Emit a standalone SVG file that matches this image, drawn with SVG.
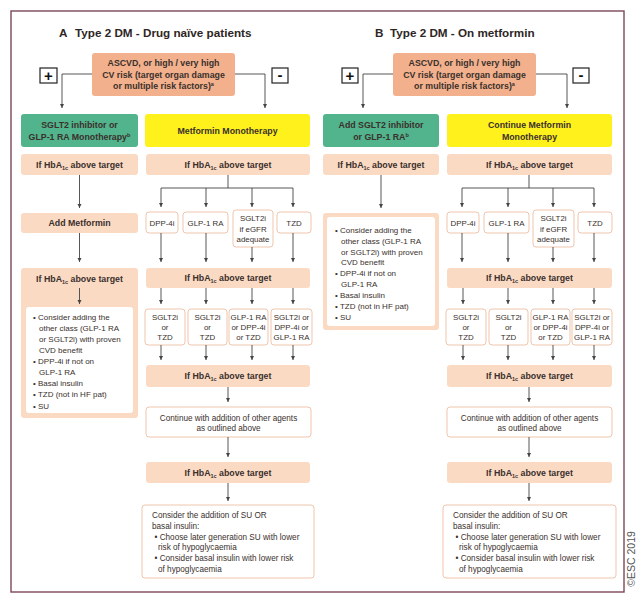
<svg xmlns="http://www.w3.org/2000/svg" width="640" height="597" viewBox="0 0 640 597">
<style>
text{font-family:"Liberation Sans",Arial,sans-serif;fill:#3a302c}
.t{font-size:11.7px;font-weight:bold;fill:#2e2624}
.h{font-size:8.8px;font-weight:bold;text-anchor:middle}
.w{font-size:8.2px;text-anchor:middle}
.s{font-size:7.9px;text-anchor:middle}
.l{font-size:8px}
.f{font-size:8.2px}
.sub{font-size:5.5px}
.asc{fill:#F2B18C}
.pe{fill:#FBDAC4}
.gr{fill:#52B48C}
.ye{fill:#FFF21C}
.wb{fill:#fff;stroke:#EFC6AC;stroke-width:1}
.pm{fill:#fff;stroke:#222;stroke-width:1.2}
.pmt{font-size:15px;font-weight:bold;text-anchor:middle;fill:#111}
#connectors path{fill:none;stroke:#444;stroke-width:0.9;marker-end:url(#ah)}
#connectors path.nm{marker-end:none}
</style>
<defs>
<marker id="ah" viewBox="0 0 8 8" refX="8" refY="4" markerWidth="4.5" markerHeight="4.5" markerUnits="userSpaceOnUse" orient="auto"><path d="M0,0 L8,4 L0,8 z" fill="#444"/></marker>
</defs>
<rect width="640" height="597" fill="#fff"/>
<rect id="frame" x="11" y="11" width="613" height="581" fill="none" stroke="#7a4858" stroke-width="1.4"/>

<!-- Panel A -->
<g id="a-title"><text class="t" x="59" y="37">A<tspan x="75">Type 2 DM - Drug naïve patients</tspan></text></g>
<g id="a-ascvd"><rect class="asc" x="92" y="53" width="143" height="43" rx="3"/>
<text class="h" x="163.5" y="66">ASCVD, or high / very high</text>
<text class="h" x="163.5" y="77.5">CV risk (target organ damage</text>
<text class="h" x="163.5" y="89">or multiple risk factors)<tspan class="sub" dy="-3">a</tspan></text></g>
<g id="a-plus"><rect class="pm" x="40" y="68" width="17" height="15"/><text class="pmt" x="48.5" y="80.5">+</text></g>
<g id="a-minus"><rect class="pm" x="272" y="68" width="16" height="15"/><text class="pmt" x="280" y="80">-</text></g>
<g id="a-sglt2"><rect class="gr" x="21" y="114" width="117" height="33" rx="3"/>
<text class="h" x="79.5" y="128">SGLT2 inhibitor or</text>
<text class="h" x="79.5" y="139.5">GLP-1 RA Monotherapy<tspan class="sub" dy="-3">b</tspan></text></g>
<g id="a-metformin"><rect class="ye" x="145" y="114" width="165" height="33" rx="3"/>
<text class="h" x="227.5" y="134">Metformin Monotherapy</text></g>
<g id="a-hb1l"><rect class="pe" x="21" y="154" width="117" height="21" rx="3"/>
<text class="h" x="79.5" y="167.5">If HbA<tspan class="sub" dy="2">1c</tspan><tspan dy="-2"> above target</tspan></text></g>
<g id="a-hb1r"><rect class="pe" x="146" y="154" width="164" height="21" rx="3"/>
<text class="h" x="228" y="167.5">If HbA<tspan class="sub" dy="2">1c</tspan><tspan dy="-2"> above target</tspan></text></g>
<g id="a-addmet"><rect class="pe" x="21" y="213" width="117" height="20" rx="3"/>
<text class="h" x="79.5" y="226">Add Metformin</text></g>
<g id="a-dpp4"><rect class="wb" x="146" y="212" width="32" height="21" rx="3"/><text class="s" x="162" y="225.5">DPP-4i</text></g>
<g id="a-glp1"><rect class="wb" x="183" y="212" width="45" height="21" rx="3"/><text class="s" x="205.5" y="225.5">GLP-1 RA</text></g>
<g id="a-sglt2i"><rect class="wb" x="233" y="210" width="40" height="37" rx="3"/>
<text class="s" x="253" y="221">SGLT2i</text><text class="s" x="253" y="231.5">if eGFR</text><text class="s" x="253" y="242">adequate</text></g>
<g id="a-tzd"><rect class="wb" x="277" y="212" width="34" height="21" rx="3"/><text class="s" x="294" y="225.5">TZD</text></g>
<g id="a-hb2l"><rect class="pe" x="21" y="268" width="117" height="150" rx="3"/>
<text class="h" x="79.5" y="281.5">If HbA<tspan class="sub" dy="2">1c</tspan><tspan dy="-2"> above target</tspan></text>
<rect x="26" y="307" width="107" height="106" rx="3" fill="#fff"/>
<text class="l" x="33" y="320">• Consider adding the</text>
<text class="l" x="39" y="331">other class (GLP-1 RA</text>
<text class="l" x="39" y="342">or SGLT2i) with proven</text>
<text class="l" x="39" y="353">CVD benefit</text>
<text class="l" x="33" y="364">• DPP-4i if not on</text>
<text class="l" x="39" y="375">GLP-1 RA</text>
<text class="l" x="33" y="386">• Basal insulin</text>
<text class="l" x="33" y="397">• TZD (not in HF pat)</text>
<text class="l" x="33" y="408.5">• SU</text></g>
<g id="a-hb2r"><rect class="pe" x="146" y="268" width="164" height="20" rx="3"/>
<text class="h" x="228" y="281">If HbA<tspan class="sub" dy="2">1c</tspan><tspan dy="-2"> above target</tspan></text></g>
<g id="a-c1"><rect class="wb" x="145" y="309" width="40" height="36" rx="3"/><text class="s" x="165" y="320">SGLT2i</text><text class="s" x="165" y="330">or</text><text class="s" x="165" y="339.5">TZD</text></g>
<g id="a-c2"><rect class="wb" x="188" y="309" width="39" height="36" rx="3"/><text class="s" x="207.5" y="320">SGLT2i</text><text class="s" x="207.5" y="330">or</text><text class="s" x="207.5" y="339.5">TZD</text></g>
<g id="a-c3"><rect class="wb" x="229" y="309" width="39" height="36" rx="3"/><text class="s" x="248.5" y="320">GLP-1 RA</text><text class="s" x="248.5" y="330">or DPP-4i</text><text class="s" x="248.5" y="339.5">or TZD</text></g>
<g id="a-c4"><rect class="wb" x="271" y="309" width="41" height="36" rx="3"/><text class="s" x="291.5" y="320">SGLT2i or</text><text class="s" x="291.5" y="330">DPP-4i or</text><text class="s" x="291.5" y="339.5">GLP-1 RA</text></g>
<g id="a-hb3"><rect class="pe" x="146" y="365" width="164" height="22" rx="3"/>
<text class="h" x="228" y="379">If HbA<tspan class="sub" dy="2">1c</tspan><tspan dy="-2"> above target</tspan></text></g>
<g id="a-cont"><rect class="wb" x="146" y="407" width="165" height="30" rx="3"/>
<text class="w" x="228.5" y="420.5">Continue with addition of other agents</text>
<text class="w" x="228.5" y="431">as outlined above</text></g>
<g id="a-hb4"><rect class="pe" x="146" y="462" width="164" height="21" rx="3"/>
<text class="h" x="228" y="475.5">If HbA<tspan class="sub" dy="2">1c</tspan><tspan dy="-2"> above target</tspan></text></g>
<g id="a-final"><rect class="wb" x="142" y="505" width="172" height="73" rx="3"/>
<text class="f" x="152" y="518">Consider the addition of SU OR</text>
<text class="f" x="152" y="528.5">basal insulin:</text>
<text class="f" x="154.5" y="539.5">• Choose later generation SU with lower</text>
<text class="f" x="158" y="550">risk of hypoglycaemia</text>
<text class="f" x="154.5" y="561">• Consider basal insulin with lower risk</text>
<text class="f" x="158" y="571.5">of hypoglycaemia</text></g>

<!-- Panel B -->
<g id="b-title"><text class="t" x="375" y="37">B<tspan x="390">Type 2 DM - On metformin</tspan></text></g>
<g id="b-ascvd"><rect class="asc" x="393" y="53" width="143" height="43" rx="3"/>
<text class="h" x="464.5" y="66">ASCVD, or high / very high</text>
<text class="h" x="464.5" y="77.5">CV risk (target organ damage</text>
<text class="h" x="464.5" y="89">or multiple risk factors)<tspan class="sub" dy="-3">a</tspan></text></g>
<g id="b-plus"><rect class="pm" x="342" y="68" width="16" height="15"/><text class="pmt" x="350" y="80.5">+</text></g>
<g id="b-minus"><rect class="pm" x="573" y="68" width="16" height="15"/><text class="pmt" x="581" y="80">-</text></g>
<g id="b-sglt2"><rect class="gr" x="323" y="114" width="116" height="33" rx="3"/>
<text class="h" x="381" y="128">Add SGLT2 inhibitor</text>
<text class="h" x="381" y="139.5">or GLP-1 RA<tspan class="sub" dy="-3">b</tspan></text></g>
<g id="b-metformin"><rect class="ye" x="447" y="114" width="165" height="33" rx="3"/>
<text class="h" x="529.5" y="128">Continue Metformin</text>
<text class="h" x="529.5" y="139.5">Monotherapy</text></g>
<g id="b-hb1l"><rect class="pe" x="323" y="154" width="116" height="21" rx="3"/>
<text class="h" x="381" y="167.5">If HbA<tspan class="sub" dy="2">1c</tspan><tspan dy="-2"> above target</tspan></text></g>
<g id="b-hb1r"><rect class="pe" x="447" y="154" width="165" height="21" rx="3"/>
<text class="h" x="529.5" y="167.5">If HbA<tspan class="sub" dy="2">1c</tspan><tspan dy="-2"> above target</tspan></text></g>
<g id="b-list"><rect class="pe" x="323" y="213" width="116" height="117" rx="3"/>
<rect x="327" y="217" width="108" height="109" rx="3" fill="#fff"/>
<text class="l" x="335" y="233">• Consider adding the</text>
<text class="l" x="341" y="243.5">other class (GLP-1 RA</text>
<text class="l" x="341" y="254.5">or SGLT2i) with proven</text>
<text class="l" x="341" y="265">CVD benefit</text>
<text class="l" x="335" y="276">• DPP-4i if not on</text>
<text class="l" x="341" y="286.5">GLP-1 RA</text>
<text class="l" x="335" y="298">• Basal insulin</text>
<text class="l" x="335" y="309">• TZD (not in HF pat)</text>
<text class="l" x="335" y="320">• SU</text></g>
<g id="b-dpp4"><rect class="wb" x="447" y="212" width="32" height="21" rx="3"/><text class="s" x="463" y="225.5">DPP-4i</text></g>
<g id="b-glp1"><rect class="wb" x="484" y="212" width="45" height="21" rx="3"/><text class="s" x="506.5" y="225.5">GLP-1 RA</text></g>
<g id="b-sglt2i"><rect class="wb" x="533" y="210" width="41" height="37" rx="3"/>
<text class="s" x="553.5" y="221">SGLT2i</text><text class="s" x="553.5" y="231.5">if eGFR</text><text class="s" x="553.5" y="242">adequate</text></g>
<g id="b-tzd"><rect class="wb" x="578" y="212" width="34" height="21" rx="3"/><text class="s" x="595" y="225.5">TZD</text></g>
<g id="b-hb2"><rect class="pe" x="447" y="268" width="165" height="20" rx="3"/>
<text class="h" x="529.5" y="281">If HbA<tspan class="sub" dy="2">1c</tspan><tspan dy="-2"> above target</tspan></text></g>
<g id="b-c1"><rect class="wb" x="446" y="309" width="40" height="36" rx="3"/><text class="s" x="466" y="320">SGLT2i</text><text class="s" x="466" y="330">or</text><text class="s" x="466" y="339.5">TZD</text></g>
<g id="b-c2"><rect class="wb" x="489" y="309" width="39" height="36" rx="3"/><text class="s" x="508.5" y="320">SGLT2i</text><text class="s" x="508.5" y="330">or</text><text class="s" x="508.5" y="339.5">TZD</text></g>
<g id="b-c3"><rect class="wb" x="531" y="309" width="39" height="36" rx="3"/><text class="s" x="550.5" y="320">GLP-1 RA</text><text class="s" x="550.5" y="330">or DPP-4i</text><text class="s" x="550.5" y="339.5">or TZD</text></g>
<g id="b-c4"><rect class="wb" x="572" y="309" width="40" height="36" rx="3"/><text class="s" x="592" y="320">SGLT2i or</text><text class="s" x="592" y="330">DPP-4i or</text><text class="s" x="592" y="339.5">GLP-1 RA</text></g>
<g id="b-hb3"><rect class="pe" x="447" y="365" width="165" height="22" rx="3"/>
<text class="h" x="529.5" y="379">If HbA<tspan class="sub" dy="2">1c</tspan><tspan dy="-2"> above target</tspan></text></g>
<g id="b-cont"><rect class="wb" x="447" y="407" width="165" height="30" rx="3"/>
<text class="w" x="529.5" y="420.5">Continue with addition of other agents</text>
<text class="w" x="529.5" y="431">as outlined above</text></g>
<g id="b-hb4"><rect class="pe" x="447" y="462" width="165" height="21" rx="3"/>
<text class="h" x="529.5" y="475.5">If HbA<tspan class="sub" dy="2">1c</tspan><tspan dy="-2"> above target</tspan></text></g>
<g id="b-final"><rect class="wb" x="443" y="505" width="173" height="73" rx="3"/>
<text class="f" x="453" y="518">Consider the addition of SU OR</text>
<text class="f" x="453" y="528.5">basal insulin:</text>
<text class="f" x="455.5" y="539.5">• Choose later generation SU with lower</text>
<text class="f" x="459" y="550">risk of hypoglycaemia</text>
<text class="f" x="455.5" y="561">• Consider basal insulin with lower risk</text>
<text class="f" x="459" y="571.5">of hypoglycaemia</text></g>

<g id="copyright"><text x="0" y="0" transform="translate(635,559) rotate(-90)" style="font-size:10.5px;text-anchor:middle;fill:#555">©ESC 2019</text></g>

<g id="connectors">
<path d="M92,74 H62 V108"/>
<path d="M235,74 H265 V108"/>
<path d="M79.5,175 V208"/>
<path class="nm" d="M228,175 V188"/>
<path class="nm" d="M161,188 H293"/>
<path d="M161,188 V207"/><path d="M206,188 V207"/><path d="M252,188 V207"/><path d="M293,188 V207"/>
<path d="M79.5,233 V262"/>
<path d="M161,233 V262"/><path d="M206,233 V262"/><path d="M252,247 V262"/><path d="M293,233 V262"/>
<path d="M79.5,288 V304"/>
<path d="M161,288 V304"/><path d="M206,288 V304"/><path d="M252,288 V304"/><path d="M293,288 V304"/>
<path d="M161,345 V360"/><path d="M206,345 V360"/><path d="M252,345 V360"/><path d="M293,345 V360"/>
<path d="M228,387 V402"/>
<path d="M228,437 V457"/>
<path d="M228,483 V501"/>

<path d="M393,74 H363 V108"/>
<path d="M536,74 H567 V108"/>
<path d="M381,175 V208"/>
<path class="nm" d="M529,175 V188"/>
<path class="nm" d="M462,188 H594"/>
<path d="M462,188 V207"/><path d="M508,188 V207"/><path d="M553,188 V207"/><path d="M594,188 V207"/>
<path d="M462,233 V262"/><path d="M508,233 V262"/><path d="M553,247 V262"/><path d="M594,233 V262"/>
<path d="M463,288 V304"/><path d="M508,288 V304"/><path d="M553,288 V304"/><path d="M594,288 V304"/>
<path d="M463,345 V360"/><path d="M508,345 V360"/><path d="M553,345 V360"/><path d="M594,345 V360"/>
<path d="M529,387 V402"/>
<path d="M529,437 V457"/>
<path d="M529,483 V501"/>
</g>
</svg>
